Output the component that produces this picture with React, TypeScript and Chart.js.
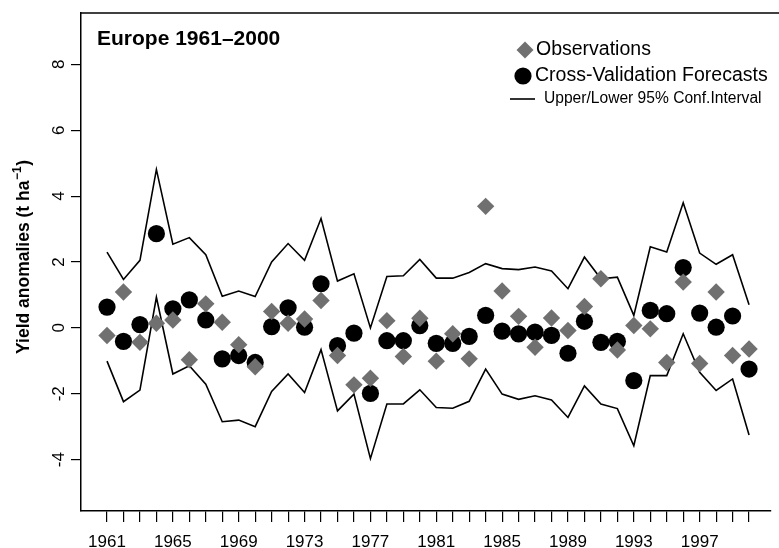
import { useEffect, useRef } from 'react';
import { Chart, registerables } from 'chart.js';

Chart.register(...registerables);

const years = [
  1961, 1962, 1963, 1964, 1965, 1966, 1967, 1968, 1969, 1970,
  1971, 1972, 1973, 1974, 1975, 1976, 1977, 1978, 1979, 1980,
  1981, 1982, 1983, 1984, 1985, 1986, 1987, 1988, 1989, 1990,
  1991, 1992, 1993, 1994, 1995, 1996, 1997, 1998, 1999, 2000,
];

const observations = [
  -0.23, 1.09, -0.44, 0.14, 0.24, -0.97, 0.73, 0.17, -0.51, -1.18,
  0.5, 0.14, 0.27, 0.83, -0.84, -1.73, -1.53, 0.22, -0.87, 0.29,
  -1.01, -0.18, -0.94, 3.69, 1.12, 0.35, -0.59, 0.3, -0.08, 0.65,
  1.49, -0.67, 0.07, -0.03, -1.05, 1.39, -1.08, 1.09, -0.84, -0.64,
];

const forecasts = [
  0.63, -0.41, 0.1, 2.86, 0.58, 0.85, 0.24, -0.94, -0.84, -1.05,
  0.04, 0.61, 0.02, 1.34, -0.54, -0.16, -1.99, -0.39, -0.39, 0.07,
  -0.47, -0.47, -0.26, 0.38, -0.1, -0.18, -0.13, -0.23, -0.77, 0.2,
  -0.44, -0.41, -1.6, 0.53, 0.43, 1.83, 0.45, 0.02, 0.36, -1.25,
];

const upperCI = [
  2.3, 1.47, 2.05, 4.81, 2.54, 2.74, 2.22, 0.96, 1.12, 0.95,
  2.0, 2.56, 2.05, 3.32, 1.42, 1.64, 0.0, 1.56, 1.58, 2.08,
  1.51, 1.51, 1.68, 1.95, 1.8, 1.77, 1.85, 1.73, 1.19, 2.15,
  1.49, 1.54, 0.38, 2.46, 2.3, 3.8, 2.27, 1.93, 2.22, 0.7,
];

const lowerCI = [
  -1.01, -2.24, -1.89, 0.93, -1.4, -1.15, -1.71, -2.85, -2.8, -3.0,
  -1.93, -1.4, -1.96, -0.66, -2.52, -2.01, -3.97, -2.31, -2.31, -1.88,
  -2.42, -2.44, -2.23, -1.25, -2.01, -2.17, -2.06, -2.19, -2.72, -1.76,
  -2.31, -2.45, -3.58, -1.45, -1.45, -0.18, -1.35, -1.9, -1.55, -3.25,
];

const xTickLabels = [1961, 1965, 1969, 1973, 1977, 1981, 1985, 1989, 1993, 1997];
const yTicks = [-4, -2, 0, 2, 4, 6, 8];

const TITLE = 'Europe 1961\u20132000';
const LEGEND_OBS = 'Observations';
const LEGEND_FC = 'Cross-Validation Forecasts';
const LEGEND_CI = 'Upper/Lower 95% Conf.Interval';

const FONT = '"Liberation Sans", Arial, Helvetica, sans-serif';
const OBS_COLOR = '#707070';

const overlayPlugin = {
  id: 'overlay',
  afterDraw(chart: any) {
    const ctx = chart.ctx;
    const area = chart.chartArea;
    const yScale = chart.scales.y;
    ctx.save();
    // box: top border (right side falls off the canvas)
    ctx.strokeStyle = '#000';
    ctx.lineWidth = 1.5;
    ctx.beginPath();
    ctx.moveTo(area.left, area.top);
    ctx.lineTo(chart.width, area.top);
    ctx.stroke();

    // rotated y tick labels
    ctx.fillStyle = '#000';
    ctx.font = `17px ${FONT}`;
    ctx.textAlign = 'center';
    ctx.textBaseline = 'middle';
    yTicks.forEach((v) => {
      const py = yScale.getPixelForValue(v);
      ctx.save();
      ctx.translate(59, py);
      ctx.rotate(-Math.PI / 2);
      ctx.fillText(String(v), 0, 0);
      ctx.restore();
    });

    // y axis title with superscript
    ctx.save();
    ctx.translate(24, 257);
    ctx.rotate(-Math.PI / 2);
    const mainFont = `bold 17.5px ${FONT}`;
    const supFont = `bold 12px ${FONT}`;
    const partA = 'Yield anomalies (t ha';
    const partSup = '\u22121';
    const partB = ')';
    ctx.font = mainFont;
    const wA = ctx.measureText(partA).width;
    const wB = ctx.measureText(partB).width;
    ctx.font = supFont;
    const wS = ctx.measureText(partSup).width;
    const total = wA + wS + wB + 1;
    let x0 = -total / 2;
    ctx.textAlign = 'left';
    ctx.textBaseline = 'middle';
    ctx.font = mainFont;
    ctx.fillText(partA, x0, 0);
    x0 += wA;
    ctx.font = supFont;
    ctx.fillText(partSup, x0 + 0.5, -6);
    x0 += wS + 1;
    ctx.font = mainFont;
    ctx.fillText(partB, x0, 0);
    ctx.restore();

    // title
    ctx.font = `bold 21px ${FONT}`;
    ctx.textAlign = 'left';
    ctx.textBaseline = 'middle';
    ctx.fillText(TITLE, 97, 39);

    // legend
    const obsDs = chart.data.datasets[0];
    const fcDs = chart.data.datasets[1];
    const ciDs = chart.data.datasets[2];
    // diamond
    ctx.fillStyle = obsDs.backgroundColor;
    ctx.beginPath();
    ctx.moveTo(525 - 8.5, 50);
    ctx.lineTo(525, 50 - 8.5);
    ctx.lineTo(525 + 8.5, 50);
    ctx.lineTo(525, 50 + 8.5);
    ctx.closePath();
    ctx.fill();
    // circle
    ctx.fillStyle = fcDs.backgroundColor;
    ctx.beginPath();
    ctx.arc(523, 76, 8.6, 0, Math.PI * 2);
    ctx.fill();
    // line
    ctx.strokeStyle = ciDs.borderColor;
    ctx.lineWidth = 1.6;
    ctx.beginPath();
    ctx.moveTo(510, 99);
    ctx.lineTo(535, 99);
    ctx.stroke();

    ctx.fillStyle = '#000';
    ctx.font = `19.5px ${FONT}`;
    ctx.fillText(LEGEND_OBS, 536, 50);
    ctx.fillText(LEGEND_FC, 535, 76);
    ctx.font = `15.6px ${FONT}`;
    ctx.fillText(LEGEND_CI, 544, 99);
    ctx.restore();
  },
};

export default function App() {
  const ref = useRef<HTMLCanvasElement | null>(null);

  useEffect(() => {
    document.body.style.margin = '0';
    const canvas = ref.current;
    if (!canvas) return;

    const pts = (vals: number[]) => years.map((yr, i) => ({ x: yr, y: vals[i] }));

    const chart = new Chart(canvas, {
      type: 'scatter',
      data: {
        datasets: [
          {
            label: LEGEND_OBS,
            data: pts(observations),
            pointStyle: 'rectRot',
            pointRadius: 8.7,
            pointHoverRadius: 8.7,
            pointBorderWidth: 0,
            backgroundColor: OBS_COLOR,
            borderColor: OBS_COLOR,
            showLine: false,
          },
          {
            label: LEGEND_FC,
            data: pts(forecasts),
            pointStyle: 'circle',
            pointRadius: 8.6,
            pointHoverRadius: 8.6,
            pointBorderWidth: 0,
            backgroundColor: '#000',
            borderColor: '#000',
            showLine: false,
          },
          {
            label: 'Upper 95%',
            data: pts(upperCI),
            showLine: true,
            pointRadius: 0,
            borderColor: '#000',
            backgroundColor: '#000',
            borderWidth: 1.6,
            tension: 0,
          },
          {
            label: 'Lower 95%',
            data: pts(lowerCI),
            showLine: true,
            pointRadius: 0,
            borderColor: '#000',
            backgroundColor: '#000',
            borderWidth: 1.6,
            tension: 0,
          },
        ],
      },
      options: {
        animation: false,
        responsive: false,
        maintainAspectRatio: false,
        devicePixelRatio: 1,
        events: [],
        layout: { padding: { top: 13, left: 0, right: 0, bottom: 0 } },
        plugins: {
          legend: { display: false },
          tooltip: { enabled: false },
          title: { display: false },
        },
        scales: {
          x: {
            type: 'linear',
            min: 1959.42,
            max: 2001.29,
            afterBuildTicks: (scale: any) => {
              scale.ticks = years.map((v) => ({ value: v }));
            },
            afterFit: (scale: any) => {
              scale.height = 37;
            },
            ticks: {
              autoSkip: false,
              maxRotation: 0,
              minRotation: 0,
              padding: 10,
              color: '#000',
              font: { family: FONT, size: 17 },
              callback: (v: any) => (xTickLabels.includes(Number(v)) ? String(v) : ''),
            },
            grid: {
              drawOnChartArea: false,
              drawTicks: true,
              tickLength: 11,
              color: '#000',
              lineWidth: 1.2,
            },
            border: { display: true, color: '#000', width: 1.5 },
          },
          y: {
            type: 'linear',
            min: -5.56,
            max: 9.56,
            afterBuildTicks: (scale: any) => {
              scale.ticks = yTicks.map((v) => ({ value: v }));
            },
            afterFit: (scale: any) => {
              scale.width = 81;
            },
            ticks: { display: false },
            grid: {
              drawOnChartArea: false,
              drawTicks: true,
              tickLength: 10,
              color: '#000',
              lineWidth: 1.2,
            },
            border: { display: true, color: '#000', width: 1.5 },
          },
        },
      },
      plugins: [overlayPlugin],
    });

    return () => {
      chart.destroy();
    };
  }, []);

  return (
    <canvas
      ref={ref}
      width={779}
      height={548}
      style={{ display: 'block', width: 779, height: 548 }}
    />
  );
}
